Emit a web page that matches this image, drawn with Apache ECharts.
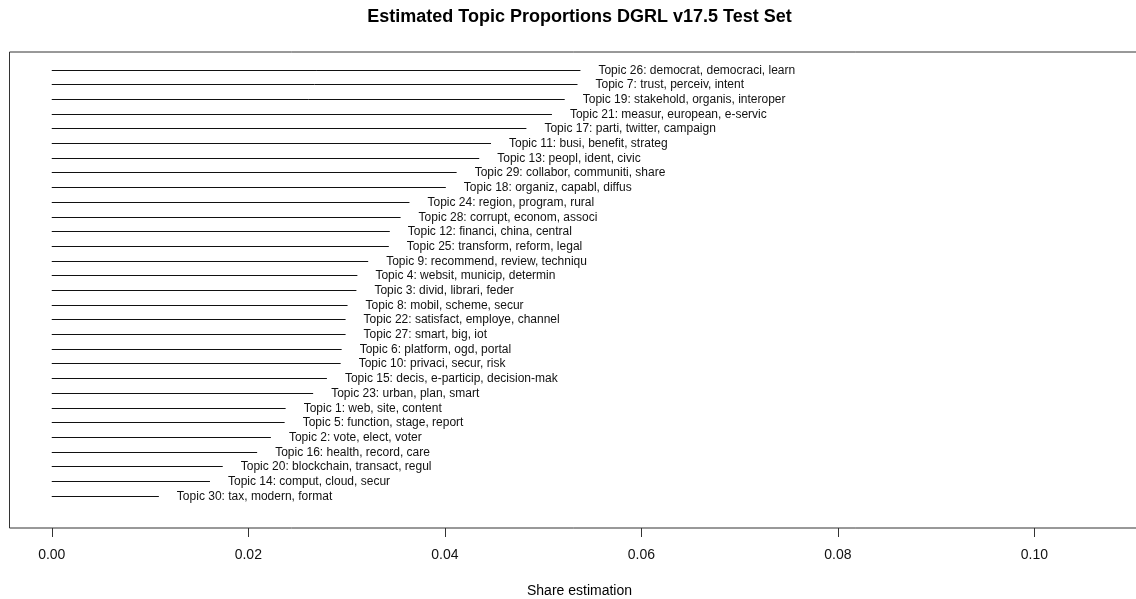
<!DOCTYPE html>
<html><head><meta charset="utf-8">
<script src="https://cdn.jsdelivr.net/npm/echarts@6/dist/echarts.min.js"></script>
<style>html,body{margin:0;padding:0;background:#fff}#c{width:1136px;height:599px}</style>
</head><body><div id="c"></div>
<script>
// Topics listed top to bottom
const topicLabels = [
  "Topic 26: democrat, democraci, learn",
  "Topic 7: trust, perceiv, intent",
  "Topic 19: stakehold, organis, interoper",
  "Topic 21: measur, european, e-servic",
  "Topic 17: parti, twitter, campaign",
  "Topic 11: busi, benefit, strateg",
  "Topic 13: peopl, ident, civic",
  "Topic 29: collabor, communiti, share",
  "Topic 18: organiz, capabl, diffus",
  "Topic 24: region, program, rural",
  "Topic 28: corrupt, econom, associ",
  "Topic 12: financi, china, central",
  "Topic 25: transform, reform, legal",
  "Topic 9: recommend, review, techniqu",
  "Topic 4: websit, municip, determin",
  "Topic 3: divid, librari, feder",
  "Topic 8: mobil, scheme, secur",
  "Topic 22: satisfact, employe, channel",
  "Topic 27: smart, big, iot",
  "Topic 6: platform, ogd, portal",
  "Topic 10: privaci, secur, risk",
  "Topic 15: decis, e-particip, decision-mak",
  "Topic 23: urban, plan, smart",
  "Topic 1: web, site, content",
  "Topic 5: function, stage, report",
  "Topic 2: vote, elect, voter",
  "Topic 16: health, record, care",
  "Topic 20: blockchain, transact, regul",
  "Topic 14: comput, cloud, secur",
  "Topic 30: tax, modern, format"
];
const shares = [
  0.0538, 0.0535, 0.0522, 0.0509, 0.0483, 0.0447, 0.0435, 0.0412, 0.0401, 0.0364,
  0.0355, 0.0344, 0.0343, 0.0322, 0.0311, 0.0310, 0.0301, 0.0299, 0.0299, 0.0295,
  0.0294, 0.0280, 0.0266, 0.0238, 0.0237, 0.0223, 0.0209, 0.0174, 0.0161, 0.0109
];
const xTicks = [0, 0.02, 0.04, 0.06, 0.08, 0.10];
const titleText = "Estimated Topic Proportions DGRL v17.5 Test Set";
const xName = "Share estimation";

const n = topicLabels.length;
const data = shares.map((v, i) => [v, n - i, topicLabels[i]]);
const FONT = '"Liberation Sans", Arial, sans-serif';

const chart = echarts.init(document.getElementById('c'), null, {renderer: 'canvas'});
chart.setOption({
  animation: false,
  backgroundColor: '#fff',
  graphic: [
    {type: 'text', x: 579.5, y: 17, style: {text: titleText, font: 'bold 18px ' + FONT, fill: '#000', textAlign: 'center', textVerticalAlign: 'middle'}},
    {type: 'text', x: 579.5, y: 591, style: {text: xName, font: '14px ' + FONT, fill: '#000', textAlign: 'center', textVerticalAlign: 'middle'}}
  ],
  grid: {show: true, left: 9.5, top: 52, width: 1136, height: 476, outerBoundsMode: 'none', containLabel: false, borderColor: '#333', borderWidth: 1, backgroundColor: 'transparent'},
  xAxis: {
    type: 'value', min: -0.0043, max: 0.1113, position: 'bottom',
    axisLine: {show: false, onZero: false},
    splitLine: {show: false},
    axisTick: {show: true, inside: false, customValues: xTicks, length: 9, lineStyle: {color: '#333', width: 1}},
    axisLabel: {customValues: xTicks, formatter: v => v.toFixed(2), fontSize: 14, fontFamily: FONT, color: '#111', margin: 20}
  },
  yAxis: {type: 'value', min: -1.2, max: 31.2, show: false},
  series: [{
    type: 'custom',
    clip: false,
    data: data,
    renderItem: function (params, api) {
      const v = api.value(0), row = api.value(1);
      const p0 = api.coord([0, row]);
      const p1 = api.coord([v, row]);
      const y = Math.round(p0[1]) + 0.5;
      return {
        type: 'group',
        children: [
          {type: 'line', shape: {x1: p0[0], y1: y, x2: p1[0], y2: y}, style: {stroke: '#111', lineWidth: 1}},
          {type: 'text', style: {text: data[params.dataIndex][2], x: p1[0] + 18, y: y, font: '12px ' + FONT, fill: '#111', textVerticalAlign: 'middle', textAlign: 'left'}}
        ]
      };
    }
  }]
});
</script>
</body></html>
